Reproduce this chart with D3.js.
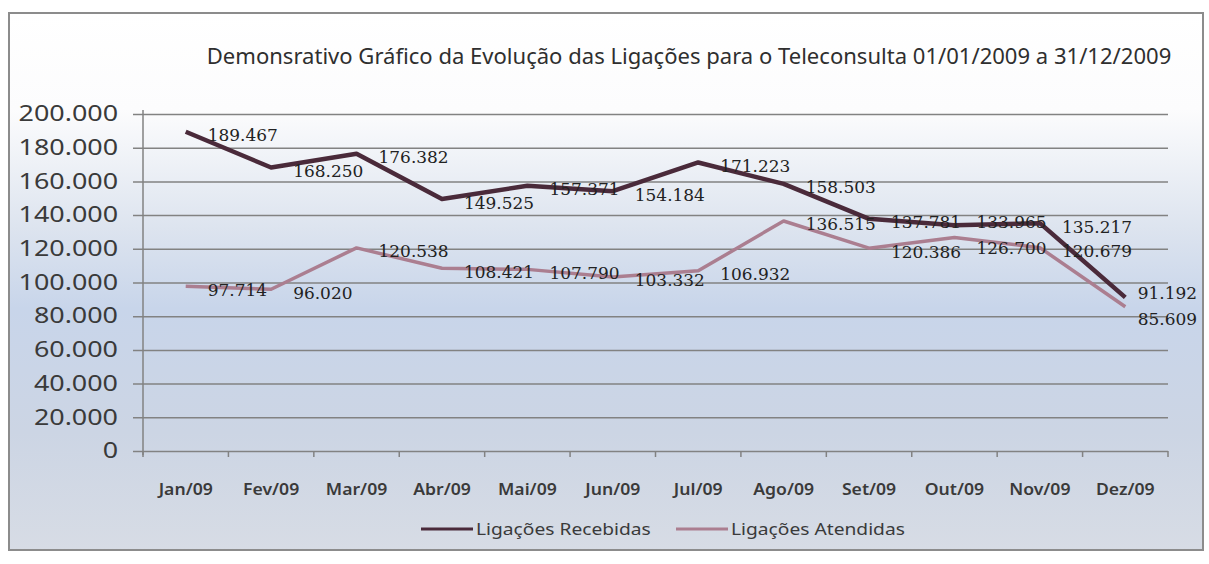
<!DOCTYPE html>
<html>
<head>
<meta charset="utf-8">
<script src="https://cdn.jsdelivr.net/npm/d3@7"></script>
<style>
  body { margin: 0; background: #fff; }
</style>
</head>
<body>
<svg id="chart" width="1209" height="564"></svg>
<script>
// chart data
const title = 'Demonsrativo Gráfico da Evolução das Ligações para o Teleconsulta 01/01/2009 a 31/12/2009';
const months = ['Jan/09', 'Fev/09', 'Mar/09', 'Abr/09', 'Mai/09', 'Jun/09', 'Jul/09', 'Ago/09', 'Set/09', 'Out/09', 'Nov/09', 'Dez/09'];
const recebidas = [189467, 168250, 176382, 149525, 157371, 154184, 171223, 158503, 137781, 133965, 135217, 91192];
const atendidas = [97714, 96020, 120538, 108421, 107790, 103332, 106932, 136515, 120386, 126700, 120679, 85609];
const seriesNames = ['Ligações Recebidas', 'Ligações Atendidas'];
const seriesColors = ['#4a2a3a', '#ab7e90'];
const yTicks = [0, 20000, 40000, 60000, 80000, 100000, 120000, 140000, 160000, 180000, 200000];

const svg = d3.select('#chart');

// pt-BR number format (thousands with dot)
const ptBR = d3.formatLocale({ decimal: ',', thousands: '.', grouping: [3], currency: ['R$', ''] });
const fmt = ptBR.format(',d');

// horizontal stretch, the scan is a bit wider than the fonts
function stretch(sel, f) {
  sel.each(function() {
    const w = this.getComputedTextLength();
    d3.select(this).attr('textLength', w * f).attr('lengthAdjust', 'spacingAndGlyphs');
  });
}

// background gradient of the chart frame
const defs = svg.append('defs');
const grad = defs.append('linearGradient')
  .attr('id', 'bg').attr('x1', 0).attr('y1', 0).attr('x2', 0).attr('y2', 1);
grad.append('stop').attr('offset', '0%').attr('stop-color', '#ffffff');
grad.append('stop').attr('offset', '18%').attr('stop-color', '#fcfcfd');
grad.append('stop').attr('offset', '40%').attr('stop-color', '#dde4ef');
grad.append('stop').attr('offset', '55%').attr('stop-color', '#c8d5ea');
grad.append('stop').attr('offset', '78%').attr('stop-color', '#ccd5e4');
grad.append('stop').attr('offset', '100%').attr('stop-color', '#d7dce5');

const frame = { x: 9, y: 13, w: 1194, h: 537 };
svg.append('rect')
  .attr('x', frame.x).attr('y', frame.y)
  .attr('width', frame.w).attr('height', frame.h)
  .attr('fill', 'url(#bg)')
  .attr('stroke', '#8c8c8c')
  .attr('stroke-width', 2);

// scales
const plot = { left: 143, right: 1168, top: 114, bottom: 451 };
const x = d3.scaleBand().domain(months).range([plot.left, plot.right]);
const y = d3.scaleLinear().domain([0, 200000]).range([plot.bottom, plot.top]);
const cx = m => x(m) + x.bandwidth() / 2;

// title
const titleText = svg.append('text')
  .attr('x', 689).attr('y', 64)
  .attr('text-anchor', 'middle')
  .attr('font-family', 'Noto Sans, sans-serif')
  .attr('font-size', 21)
  .attr('fill', '#2f2f2f')
  .text(title);
stretch(titleText, 1.05);

// y axis with gridlines
const yAxis = svg.append('g')
  .attr('transform', `translate(${plot.left - 10},0)`)
  .call(d3.axisLeft(y).tickValues(yTicks).tickFormat(fmt)
    .tickSize(-(plot.right - plot.left + 10)).tickPadding(15));
yAxis.select('.domain').remove();
yAxis.selectAll('.tick line').attr('stroke', '#828282').attr('stroke-width', 1.5);
yAxis.selectAll('.tick text')
  .attr('font-family', 'Noto Sans, sans-serif')
  .attr('font-size', 21)
  .attr('fill', '#3a3a3a');
stretch(yAxis.selectAll('.tick text'), 1.28);

// vertical axis line
svg.append('line')
  .attr('x1', plot.left).attr('x2', plot.left)
  .attr('y1', y.range()[1] - 4).attr('y2', y.range()[0] + 4)
  .attr('stroke', '#828282').attr('stroke-width', 1.5);

// x axis: ticks on category boundaries, labels at centres
const xAxis = svg.append('g')
  .attr('transform', `translate(0,${plot.bottom})`)
  .call(d3.axisBottom(x).tickSize(0).tickPadding(33));
xAxis.select('.domain').remove();
xAxis.selectAll('.tick text')
  .attr('font-family', 'Noto Sans, sans-serif')
  .attr('font-size', 16)
  .attr('font-weight', 600)
  .attr('fill', '#3a3a3a');
stretch(xAxis.selectAll('.tick text'), 1.1);

svg.append('g').selectAll('line')
  .data(d3.range(months.length + 1))
  .enter().append('line')
  .attr('x1', i => plot.left + i * x.step())
  .attr('x2', i => plot.left + i * x.step())
  .attr('y1', plot.bottom)
  .attr('y2', plot.bottom + 6)
  .attr('stroke', '#828282').attr('stroke-width', 1.5);

// lines
const series = [recebidas, atendidas];
const line = d3.line()
  .x((d, i) => cx(months[i]))
  .y(d => y(d));

// draw the lighter one first so the dark line stays on top
[1, 0].forEach(s => {
  svg.append('path')
    .datum(series[s])
    .attr('d', line)
    .attr('fill', 'none')
    .attr('stroke', seriesColors[s])
    .attr('stroke-width', s === 0 ? 4.5 : 3.5)
    .attr('stroke-linejoin', 'round');
});

// data labels, right of each point, pushed apart when they collide
const labelY = series.map(vals => vals.map(v => y(v) + 4));
months.forEach((m, i) => {
  const a = labelY[0][i], b = labelY[1][i];
  if (Math.abs(a - b) < 24) {
    const mid = (a + b) / 2;
    labelY[0][i] = mid - 13;
    labelY[1][i] = mid + 13;
  }
});

const labelG = svg.append('g');
series.forEach((vals, s) => {
  labelG.selectAll(`.lbl-${s}`)
    .data(vals)
    .enter().append('text')
    .attr('class', `lbl-${s}`)
    .attr('x', (d, i) => cx(months[i]) + 22)
    .attr('y', (d, i) => labelY[s][i])
    .attr('dominant-baseline', 'central')
    .attr('font-family', 'DejaVu Serif, serif')
    .attr('font-size', 16)
    .attr('fill', '#222')
    .text(d => fmt(d));
});
stretch(labelG.selectAll('text'), 1.06);
// keep labels inside the frame
labelG.selectAll('text').each(function() {
  const t = d3.select(this);
  const w = +t.attr('textLength');
  const maxX = frame.x + frame.w - 6;
  if (+t.attr('x') + w > maxX) t.attr('x', maxX - w);
});

// legend
const legend = svg.append('g').attr('transform', 'translate(0,529)');
const legendX = [421, 676];
seriesNames.forEach((name, s) => {
  legend.append('line')
    .attr('x1', legendX[s]).attr('x2', legendX[s] + 52)
    .attr('y1', 0).attr('y2', 0)
    .attr('stroke', seriesColors[s])
    .attr('stroke-width', 3);
  const t = legend.append('text')
    .attr('x', legendX[s] + 55)
    .attr('y', 0)
    .attr('dominant-baseline', 'central')
    .attr('font-family', 'Noto Sans, sans-serif')
    .attr('font-size', 16)
    .attr('fill', '#3a3a3a')
    .text(name);
  stretch(t, 1.2);
});
</script>
</body>
</html>
